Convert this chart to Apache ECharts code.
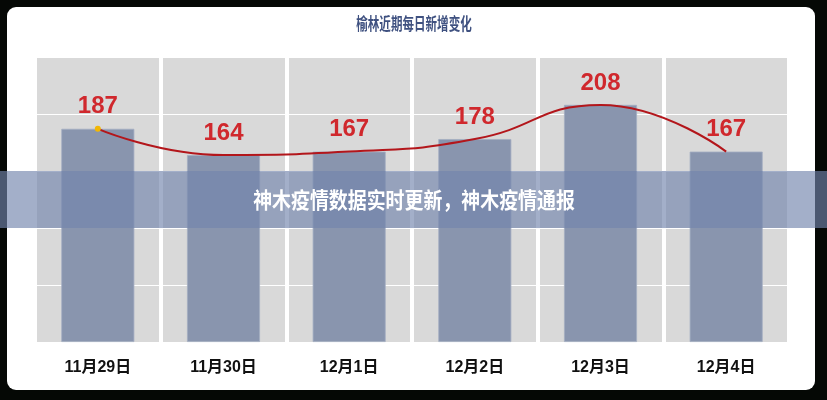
<!DOCTYPE html>
<html>
<head>
<meta charset="utf-8">
<script src="https://cdn.jsdelivr.net/npm/echarts@6/dist/echarts.min.js"></script>
<style>
html,body{margin:0;padding:0;background:#050805;}
#chart{width:827px;height:400px;}
</style>
</head>
<body>
<div id="chart"></div>
<script>
const titleText = '榆林近期每日新增变化';
const bannerText = '神木疫情数据实时更新，神木疫情通报';
const categories = ['11月29日', '11月30日', '12月1日', '12月2日', '12月3日', '12月4日'];
const dailyNew = [187, 164, 167, 178, 208, 167];
const yMin = 0, yMax = 250, yStep = 50;

const chart = echarts.init(document.getElementById('chart'));
const lineData = dailyNew.map((v, i) => i === 0
  ? { value: v, symbol: 'circle', symbolSize: 6, itemStyle: { color: '#f2b705' } }
  : v);

chart.setOption({
  backgroundColor: 'transparent',
  animation: false,
  grid: { left: 35, right: 38, top: 57, bottom: 58 },
  xAxis: {
    type: 'category',
    data: categories,
    z: 0,
    axisLine: { show: false },
    axisTick: { show: false },
    axisLabel: {
      color: '#111', fontSize: 16, fontWeight: 'bold', margin: 18,
      fontFamily: "'Liberation Sans','Noto Sans CJK SC'"
    },
    splitArea: { show: true, interval: 0, areaStyle: { color: ['#d9d9d9', '#d9d9d9'] } },
    splitLine: { show: true, interval: 0, lineStyle: { color: '#ffffff', width: 4 } }
  },
  yAxis: {
    type: 'value',
    min: yMin, max: yMax, interval: yStep,
    z: 1,
    axisLabel: { show: false },
    axisLine: { show: false },
    axisTick: { show: false },
    splitLine: { show: true, lineStyle: { color: '#ffffff', width: 1 } }
  },
  series: [
    {
      type: 'bar',
      data: dailyNew,
      barWidth: 73,
      itemStyle: { color: '#8995ae', borderColor: '#a3adc2', borderWidth: 0.8 },
      label: {
        show: true, position: 'top', distance: 10,
        color: '#d0282d', fontSize: 24, fontWeight: 'bold',
        fontFamily: "'Liberation Sans', Arial, sans-serif"
      },
      z: 2
    },
    {
      type: 'line',
      data: lineData,
      smooth: 0.5,
      symbol: 'none',
      lineStyle: { color: '#b3161b', width: 2 },
      z: 3
    }
  ],
  graphic: [
    {
      type: 'rect', z: -100, silent: true,
      shape: { x: 7, y: 7, width: 808, height: 383, r: 9 },
      style: { fill: '#ffffff' }
    },
    {
      type: 'text', z: 50, silent: true,
      x: 414, y: 24, scaleX: 0.68,
      style: {
        text: titleText, x: 0, y: 0, align: 'center', verticalAlign: 'middle',
        fill: '#3f5180', fontSize: 17, fontWeight: 'bold', fontFamily: 'Noto Sans CJK SC'
      }
    },
    {
      type: 'rect', z: 100, silent: true,
      shape: { x: 0, y: 171, width: 827, height: 57 },
      style: { fill: 'rgba(114,132,172,0.65)' }
    },
    {
      type: 'text', z: 101, silent: true,
      x: 414, y: 200, scaleX: 0.86,
      style: {
        text: bannerText, x: 0, y: 0, align: 'center', verticalAlign: 'middle',
        fill: '#ffffff', fontSize: 22, fontWeight: 'bold', fontFamily: 'Noto Sans CJK SC'
      }
    }
  ]
});
</script>
</body>
</html>
